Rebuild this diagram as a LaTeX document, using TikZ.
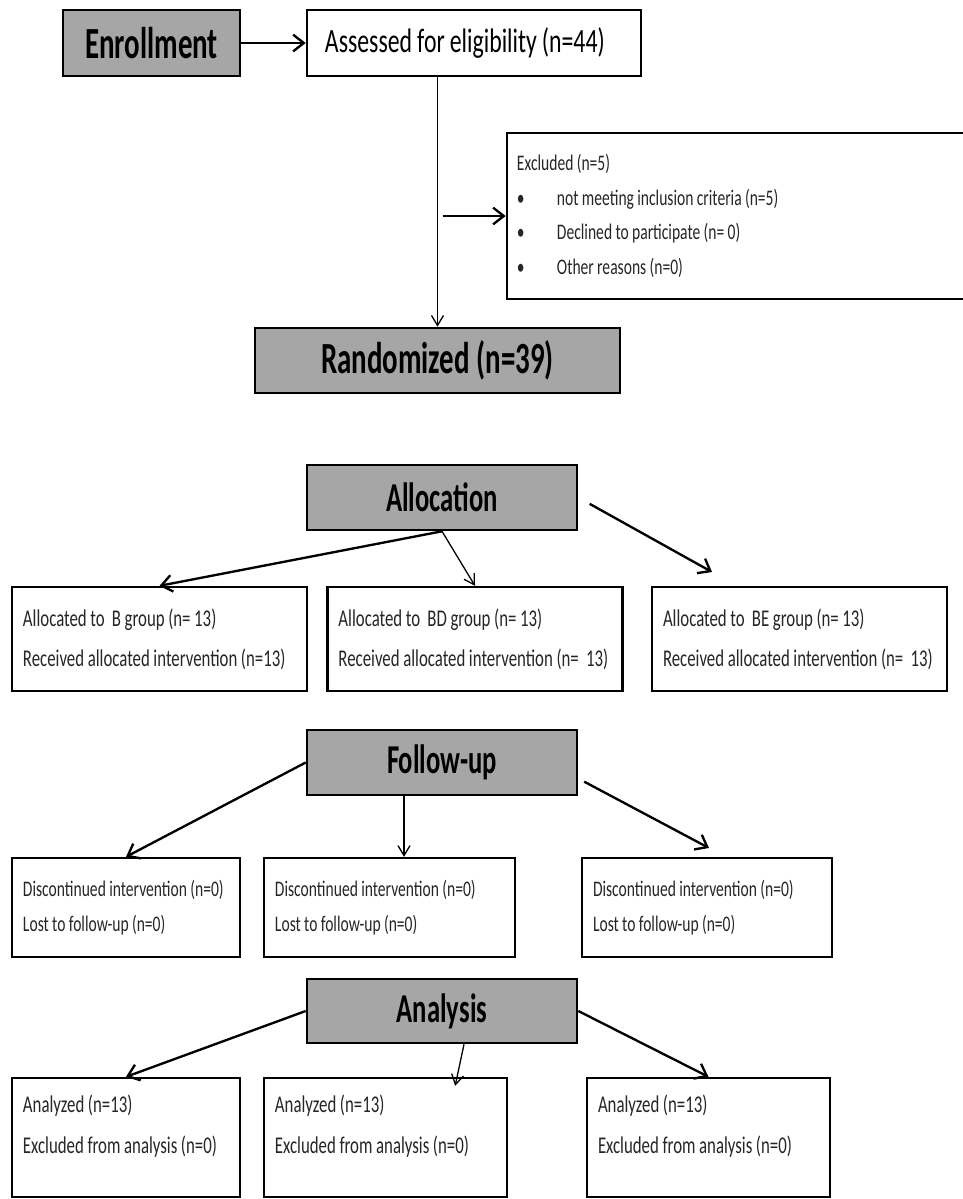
\documentclass[tikz,border=0pt]{standalone}
\usepackage{fontspec}
\setmainfont{Carlito}[FakeStretch=0.65]
\newfontfamily\plainfont{Carlito}[FakeStretch=0.7]
\newcommand{\tightsp}{\spaceskip=0.15em\relax}
\usetikzlibrary{arrows.meta}
\definecolor{headgray}{RGB}{166,166,166}

\begin{document}
\begin{tikzpicture}[x=0.03cm, y=-0.03cm,
    headbox/.style={draw, fill=headgray, line width=2.2pt, inner sep=0pt},
    bighead/.style={font=\bfseries\fontsize{38}{40}\selectfont\tightsp},
    midhead/.style={font=\bfseries\fontsize{35}{38}\selectfont\tightsp},
    grpbox/.style={draw, line width=2pt, align=flush left, inner xsep=0.33cm, text=black!85},
    thickarr/.style={line width=2pt, -{Straight Barb[length=3.2mm, width=5mm]}},
    thinarr/.style={line width=1.1pt, -{Straight Barb[length=3mm, width=3.6mm]}}]
      \useasboundingbox (0,0) rectangle (963,1199);
      \clip (0,0) rectangle (963,1199);

      % enrollment
      \node[headbox, bighead, minimum width=5.31cm, minimum height=1.98cm] (enrol) at (151.5,43) {Enrollment};
      \node[draw, line width=2.2pt, align=flush left, inner xsep=0.54cm, text width=8.94cm, minimum height=1.98cm,
            font=\plainfont\fontsize{29}{30}\selectfont\tightsp] (assess) at (474,43) {Assessed for eligibility (n=44)};
      \node[draw, line width=2.2pt, align=flush left, inner xsep=0.3cm, text width=13.59cm, minimum height=4.98cm,
            text=black!85, font=\plainfont\fontsize{19}{29.6}\selectfont\tightsp] (excl) at (743.5,216)
            {Excluded (n=5)\\
             \makebox[1.2cm][l]{\textbullet}not meeting inclusion criteria (n=5)\\
             \makebox[1.2cm][l]{\textbullet}Declined to participate (n= 0)\\
             \makebox[1.2cm][l]{\textbullet}Other reasons (n=0)};
      \node[headbox, bighead, minimum width=10.95cm, minimum height=1.95cm] (rand) at (437.5,360.5) {Randomized (n=39)};

      \draw[thickarr] (enrol) -- (assess);
      \draw[thinarr] (rand.north |- assess.south) -- (rand.north);
      \draw[thickarr] ([xshift=0.15cm]rand.north |- excl.west) -- (excl.west);

      % allocation
      \node[headbox, midhead, minimum width=8.1cm, minimum height=1.95cm] (alloc) at (442,497.5) {Allocation};
      \node[grpbox, text width=8.19cm, minimum height=3.12cm, font=\plainfont\fontsize{20.5}{34}\selectfont\tightsp] (grpb) at (159.5,639)
            {Allocated to ~B group (n= 13)\\Received allocated intervention (n=13)};
      \node[grpbox, text width=8.19cm, minimum height=3.12cm, font=\plainfont\fontsize{20.5}{34}\selectfont\tightsp] (grpbd) at (475,639)
            {Allocated to ~BD group (n= 13)\\Received allocated intervention (n= ~13)};
      \node[grpbox, text width=8.19cm, minimum height=3.12cm, font=\plainfont\fontsize{20.5}{34}\selectfont\tightsp] (grpbe) at (799.5,639)
            {Allocated to ~BE group (n= 13)\\Received allocated intervention (n= ~13)};
      \coordinate (beend) at (712,572);

      \draw[thickarr] (alloc.south) -- (grpb.north);
      \draw[thinarr] (alloc.south) -- (grpbd.north);
      \draw[thickarr, shorten <=0.39cm] (alloc.east) -- (beend);

      % follow-up
      \node[headbox, midhead, minimum width=8.1cm, minimum height=1.95cm] (fup) at (442,762.5) {Follow-up};
      \node[grpbox, text width=6.18cm, minimum height=2.97cm, font=\plainfont\fontsize{19}{30}\selectfont\tightsp] (fu1) at (126,907.5)
            {Discontinued intervention (n=0)\\Lost to follow-up (n=0)};
      \node[grpbox, text width=6.87cm, minimum height=2.97cm, font=\plainfont\fontsize{19}{30}\selectfont\tightsp] (fu2) at (389.5,907.5)
            {Discontinued intervention (n=0)\\Lost to follow-up (n=0)};
      \node[grpbox, text width=6.84cm, minimum height=2.97cm, font=\plainfont\fontsize{19}{30}\selectfont\tightsp] (fu3) at (707,907.5)
            {Discontinued intervention (n=0)\\Lost to follow-up (n=0)};
      \coordinate (fuend) at (709,848);

      \draw[thickarr] (fup.west) -- (fu1.north);
      \draw[thinarr] ([xshift=-1.14cm]fup.south) -- ([xshift=-1.14cm]fup.south |- fu2.north);
      \draw[thickarr, shorten <=0.2cm] ([yshift=-0.48cm]fup.east) -- (fuend);

      % analysis
      \node[headbox, midhead, minimum width=8.1cm, minimum height=1.92cm] (anal) at (442,1011) {Analysis};
      \node[grpbox, text width=6.18cm, minimum height=3.57cm, text depth=2cm, font=\plainfont\fontsize{20.5}{35}\selectfont\tightsp] (an1) at (126,1137.5)
            {Analyzed (n=13)\\Excluded from analysis (n=0)};
      \node[grpbox, text width=6.63cm, minimum height=3.57cm, text depth=2cm, font=\plainfont\fontsize{20.5}{35}\selectfont\tightsp] (an2) at (385.5,1137.5)
            {Analyzed (n=13)\\Excluded from analysis (n=0)};
      \node[grpbox, text width=6.63cm, minimum height=3.57cm, text depth=2cm, font=\plainfont\fontsize{20.5}{35}\selectfont\tightsp] (an3) at (708.5,1137.5)
            {Analyzed (n=13)\\Excluded from analysis (n=0)};

      \draw[thickarr] (anal.west) -- (an1.north);
      \draw[thinarr] ([xshift=0.66cm]anal.south) -- ([xshift=2.09cm, yshift=-0.27cm]an2.north);
      \draw[thickarr] (anal.east) -- (an3.north);
\end{tikzpicture}
\end{document}
